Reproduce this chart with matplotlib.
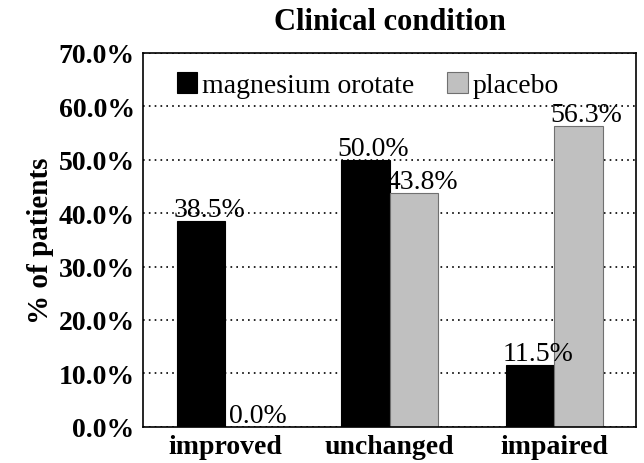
import matplotlib
matplotlib.use("Agg")
import matplotlib.pyplot as plt
import numpy as np

categories = ["improved", "unchanged", "impaired"]
magnesium = [38.5, 50.0, 11.5]
placebo = [0.0, 43.8, 56.3]
series_names = ["magnesium orotate", "placebo"]
yticks = [0, 10, 20, 30, 40, 50, 60, 70]

plt.rcParams["font.family"] = ["Liberation Serif", "DejaVu Serif"]

fig = plt.figure(figsize=(6.44, 4.64), dpi=100)
ax = fig.add_axes([0.222, 0.078, 0.766, 0.806])

x = np.arange(len(categories))
width = 0.295
b1 = ax.bar(x - width / 2, magnesium, width, color="black", edgecolor="black",
            linewidth=0.8, label=series_names[0], zorder=2)
b2 = ax.bar(x + width / 2, placebo, width, color="#c0c0c0", edgecolor="#707070",
            linewidth=0.8, label=series_names[1], zorder=2)

for bars, vals in ((b1, magnesium), (b2, placebo)):
    for rect, v in zip(bars, vals):
        ax.text(rect.get_x() + rect.get_width() / 2 + 0.05, v - 0.2, f"{v:.1f}%",
                ha="center", va="bottom", fontsize=20, zorder=3)

ax.set_xlim(-0.5, 2.5)
ax.set_ylim(0, 70)
ax.set_yticks(yticks)
ax.set_yticklabels([f"{t:.1f}%" for t in yticks], fontsize=20, fontweight="bold")
ax.set_xticks(x)
ax.set_xticklabels(categories, fontsize=20, fontweight="bold")
ax.tick_params(length=0, pad=6)
ax.tick_params(axis="x", pad=5)
ax.yaxis.grid(True, linestyle=(0, (1, 2.5)), color="black", linewidth=1.2)
ax.set_axisbelow(True)
for s in ax.spines.values():
    s.set_linewidth(1.2)

ax.set_ylabel("% of patients", fontsize=21, fontweight="bold", labelpad=3)
ax.set_title("Clinical condition", fontsize=22, fontweight="bold", pad=17)

ax.legend(loc="upper left", frameon=False, fontsize=20, handlelength=0.75,
          handleheight=0.75, handletextpad=0.15, ncol=2, columnspacing=1.2,
          bbox_to_anchor=(0.04, 0.985), borderaxespad=0.1)

fig.savefig("out.png", dpi=100)
